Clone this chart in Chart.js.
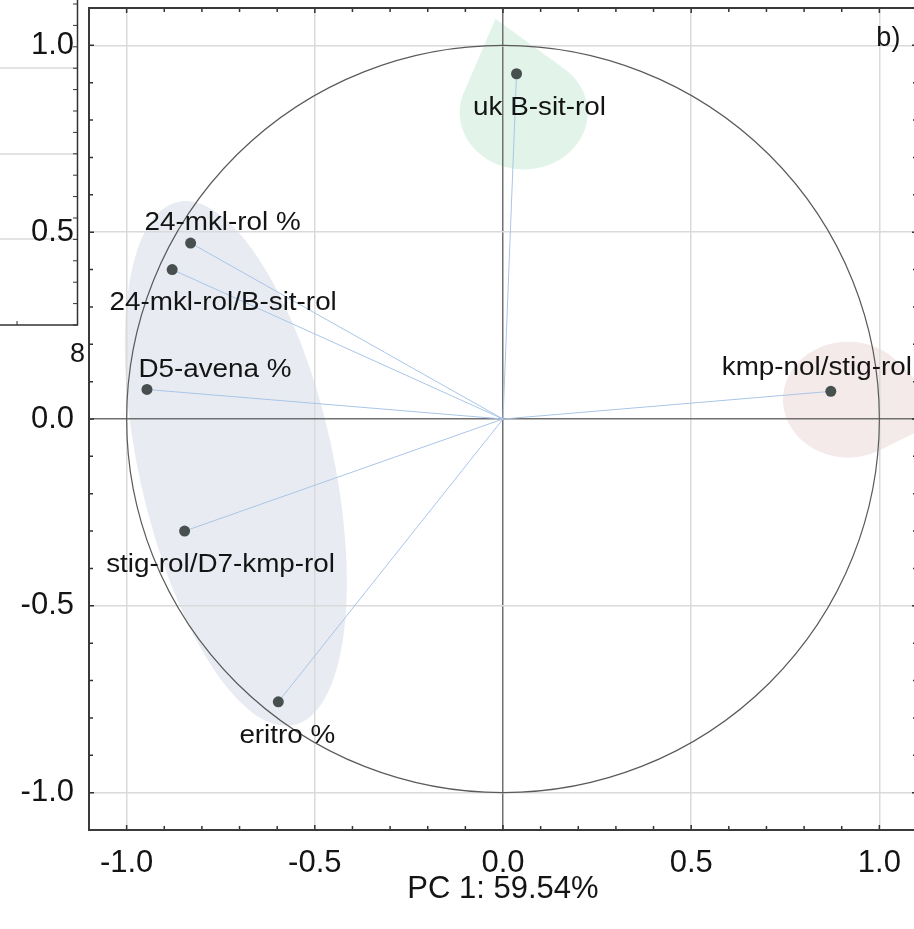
<!DOCTYPE html>
<html>
<head>
<meta charset="utf-8">
<script src="https://cdn.jsdelivr.net/npm/chart.js@4/dist/chart.umd.min.js"></script>
<style>
  html, body { margin: 0; padding: 0; overflow: hidden; background: #fff; }
  canvas { position: absolute; left: 0; top: 0; }
</style>
</head>
<body>
<canvas id="pca" width="930" height="929"></canvas>
<script>
// variable loadings on PC1 / PC2
const variables = ['uk B-sit-rol', '24-mkl-rol %', '24-mkl-rol/B-sit-rol', 'D5-avena %', 'stig-rol/D7-kmp-rol', 'eritro %', 'kmp-nol/stig-rol'];
const pc1 = [0.036, -0.830, -0.879, -0.946, -0.846, -0.597, 0.871];
const pc2 = [0.924, 0.471, 0.400, 0.079, -0.300, -0.757, 0.074];
const axisMin = -1.1;
const axisMax = 1.1;
const xTitle = 'PC 1: 59.54%';
const panelTag = 'b)';

// where each label sits, px from its point (text centre)
const labelOffsets = [[23, 32], [32, -22], [51, 31], [68, -22], [36, 32], [9, 32], [-14, -26]];

// shaded groups in data units (centre, radii, tilt in degrees, optional tip)
const groups = [
  { color: '#e8ecf2', cx: -0.710, cy: -0.119, rx: 0.258, ry: 0.717, tilt: -12.5 },
  { color: '#e2f4e9', cx: 0.055, cy: 0.820, rx: 0.170, ry: 0.152, tip: [-0.02, 1.071] },
  { color: '#f4eaea', cx: 0.917, cy: 0.052, rx: 0.173, ry: 0.155, tip: [1.19, 0.011] }
];

const FONT = "'Liberation Sans', Arial, sans-serif";
const TEXT = '#141414';
const isHalf = v => Math.abs(v * 2 - Math.round(v * 2)) < 1e-6;

function groupPath(ctx, g, xs, ys) {
  const cx = xs.getPixelForValue(g.cx), cy = ys.getPixelForValue(g.cy);
  const rx = Math.abs(xs.getPixelForValue(g.cx + g.rx) - cx);
  const ry = Math.abs(ys.getPixelForValue(g.cy + g.ry) - cy);
  ctx.beginPath();
  if (!g.tip) {
    ctx.ellipse(cx, cy, rx, ry, (g.tilt || 0) * Math.PI / 180, 0, Math.PI * 2);
    return;
  }
  const tx = xs.getPixelForValue(g.tip[0]), ty = ys.getPixelForValue(g.tip[1]);
  // hull of ellipse + tip: drop the arc that faces the tip
  const n = 240, pts = [];
  for (let i = 0; i < n; i++) {
    const t = i / n * Math.PI * 2;
    const px = cx + rx * Math.cos(t), py = cy + ry * Math.sin(t);
    const facing = (Math.cos(t) / rx) * (tx - px) + (Math.sin(t) / ry) * (ty - py) > 0;
    pts.push({ px, py, facing });
  }
  const start = pts.findIndex((p, i) => p.facing && !pts[(i + 1) % n].facing);
  ctx.moveTo(tx, ty);
  for (let k = 1; k <= n; k++) {
    const p = pts[(start + k) % n];
    if (!p.facing) ctx.lineTo(p.px, p.py);
  }
  ctx.closePath();
}

// neighbouring panel that is cut off at the left edge
function drawLeftPanel(ctx) {
  ctx.save();
  ctx.strokeStyle = '#dadada';
  ctx.lineWidth = 1.5;
  [68, 154, 239].forEach(y => {
    ctx.beginPath(); ctx.moveTo(0, y); ctx.lineTo(77, y); ctx.stroke();
  });
  ctx.strokeStyle = '#333';
  ctx.lineWidth = 1;
  for (let y = 4; y < 325; y += 21.4) {
    ctx.beginPath(); ctx.moveTo(77, y); ctx.lineTo(73, y); ctx.stroke();
  }
  ctx.beginPath(); ctx.moveTo(17, 325); ctx.lineTo(17, 321); ctx.stroke();
  ctx.lineWidth = 1.5;
  ctx.beginPath(); ctx.moveTo(77.5, 0); ctx.lineTo(77.5, 325); ctx.lineTo(0, 325); ctx.stroke();
  ctx.fillStyle = TEXT;
  ctx.font = '27px ' + FONT;
  ctx.textAlign = 'center';
  ctx.textBaseline = 'alphabetic';
  ctx.fillText('8', 77.5, 362);
  ctx.restore();
}

const pcaPlugin = {
  id: 'pcaExtras',
  beforeDraw(chart) {
    const { ctx, chartArea: a, scales: { x, y } } = chart;
    drawLeftPanel(ctx);
    ctx.save();
    ctx.beginPath();
    ctx.rect(a.left, a.top, a.right - a.left, a.bottom - a.top);
    ctx.clip();
    groups.forEach(g => {
      groupPath(ctx, g, x, y);
      ctx.fillStyle = g.color;
      ctx.fill();
    });
    ctx.restore();
  },
  beforeDatasetsDraw(chart) {
    const { ctx, chartArea: a, scales: { x, y } } = chart;
    const cx = x.getPixelForValue(0), cy = y.getPixelForValue(0);
    const rx = x.getPixelForValue(1) - cx, ry = cy - y.getPixelForValue(1);
    ctx.save();
    ctx.beginPath();
    ctx.rect(a.left, a.top, a.right - a.left, a.bottom - a.top);
    ctx.clip();
    ctx.beginPath();
    ctx.ellipse(cx, cy, rx, ry, 0, 0, Math.PI * 2);
    ctx.strokeStyle = '#5a5a5a';
    ctx.lineWidth = 1.2;
    ctx.stroke();
    ctx.restore();
  },
  afterDatasetsDraw(chart) {
    const { ctx, scales: { x, y } } = chart;
    ctx.save();
    ctx.fillStyle = TEXT;
    ctx.font = '26px ' + FONT;
    ctx.textAlign = 'center';
    ctx.textBaseline = 'alphabetic';
    variables.forEach((name, i) => {
      const px = x.getPixelForValue(pc1[i]) + labelOffsets[i][0];
      const py = y.getPixelForValue(pc2[i]) + labelOffsets[i][1] + 0.36 * 26;
      ctx.save();
      ctx.translate(px, py);
      ctx.scale(1.07, 1);
      ctx.fillText(name, 0, 0);
      ctx.restore();
    });
    ctx.restore();
  },
  afterDraw(chart) {
    const { ctx, chartArea: a, scales: { x, y } } = chart;
    ctx.save();
    ctx.strokeStyle = '#333';
    ctx.lineWidth = 1.5;
    x.ticks.forEach(t => {
      const px = x.getPixelForValue(t.value), len = isHalf(t.value) ? 5 : 4;
      ctx.beginPath();
      ctx.moveTo(px, a.bottom); ctx.lineTo(px, a.bottom - len);
      ctx.moveTo(px, a.top); ctx.lineTo(px, a.top + len);
      ctx.stroke();
    });
    y.ticks.forEach(t => {
      const py = y.getPixelForValue(t.value), len = isHalf(t.value) ? 5 : 4;
      ctx.beginPath();
      ctx.moveTo(a.left, py); ctx.lineTo(a.left + len, py);
      ctx.moveTo(a.right, py); ctx.lineTo(a.right - len, py);
      ctx.stroke();
    });
    ctx.strokeStyle = '#3a3a3a';
    ctx.lineWidth = 2;
    ctx.strokeRect(a.left, a.top, a.right - a.left, a.bottom - a.top);
    // panel tag
    ctx.fillStyle = TEXT;
    ctx.font = '27px ' + FONT;
    ctx.textAlign = 'left';
    ctx.textBaseline = 'alphabetic';
    ctx.fillText(panelTag, x.getPixelForValue(1.0) - 3, y.getPixelForValue(1.0) + 1);
    ctx.restore();
  }
};

function gridColor(c) {
  const v = c.tick.value;
  if (Math.abs(v) < 1e-6) return '#707070';
  return isHalf(v) ? '#dadada' : 'rgba(0,0,0,0)';
}

function tickLabel(v) {
  if (!isHalf(v)) return '';
  if (Math.abs(v) < 1e-6) return '0.0';
  return v.toFixed(1);
}

const spokes = variables.map((name, i) => ({
  label: name,
  data: [{ x: 0, y: 0 }, { x: pc1[i], y: pc2[i] }],
  showLine: true,
  borderColor: '#a9c6e8',
  borderWidth: 1,
  pointRadius: 0,
  order: 2
}));

new Chart(document.getElementById('pca'), {
  type: 'scatter',
  data: {
    datasets: [{
      label: 'loadings',
      data: pc1.map((v, i) => ({ x: v, y: pc2[i] })),
      pointRadius: 5.5,
      pointBackgroundColor: '#474f4f',
      pointBorderWidth: 0,
      order: 1
    }].concat(spokes)
  },
  options: {
    responsive: false,
    devicePixelRatio: 1,
    animation: false,
    events: [],
    layout: { padding: { top: 8, right: 13, left: 0, bottom: 0 } },
    plugins: { legend: { display: false }, tooltip: { enabled: false } },
    scales: {
      x: {
        type: 'linear',
        min: axisMin,
        max: axisMax,
        afterFit: s => { s.height = 99; s.paddingLeft = 0; s.paddingRight = 0; },
        border: { display: false },
        grid: { color: gridColor, lineWidth: 1.5, drawTicks: false },
        ticks: {
          stepSize: 0.1,
          autoSkip: false,
          maxRotation: 0,
          padding: 15,
          color: TEXT,
          font: { family: FONT, size: 31 },
          callback: tickLabel
        },
        title: {
          display: true,
          text: xTitle,
          color: TEXT,
          font: { family: FONT, size: 31 },
          padding: { top: 0, bottom: 21 }
        }
      },
      y: {
        type: 'linear',
        min: axisMin,
        max: axisMax,
        afterFit: s => { s.width = 89; s.paddingTop = 0; s.paddingBottom = 0; },
        border: { display: false },
        grid: { color: gridColor, lineWidth: 1.5, drawTicks: false },
        ticks: {
          stepSize: 0.1,
          autoSkip: false,
          padding: 15,
          color: TEXT,
          font: { family: FONT, size: 31 },
          callback: tickLabel
        }
      }
    }
  },
  plugins: [pcaPlugin]
});
</script>
</body>
</html>
